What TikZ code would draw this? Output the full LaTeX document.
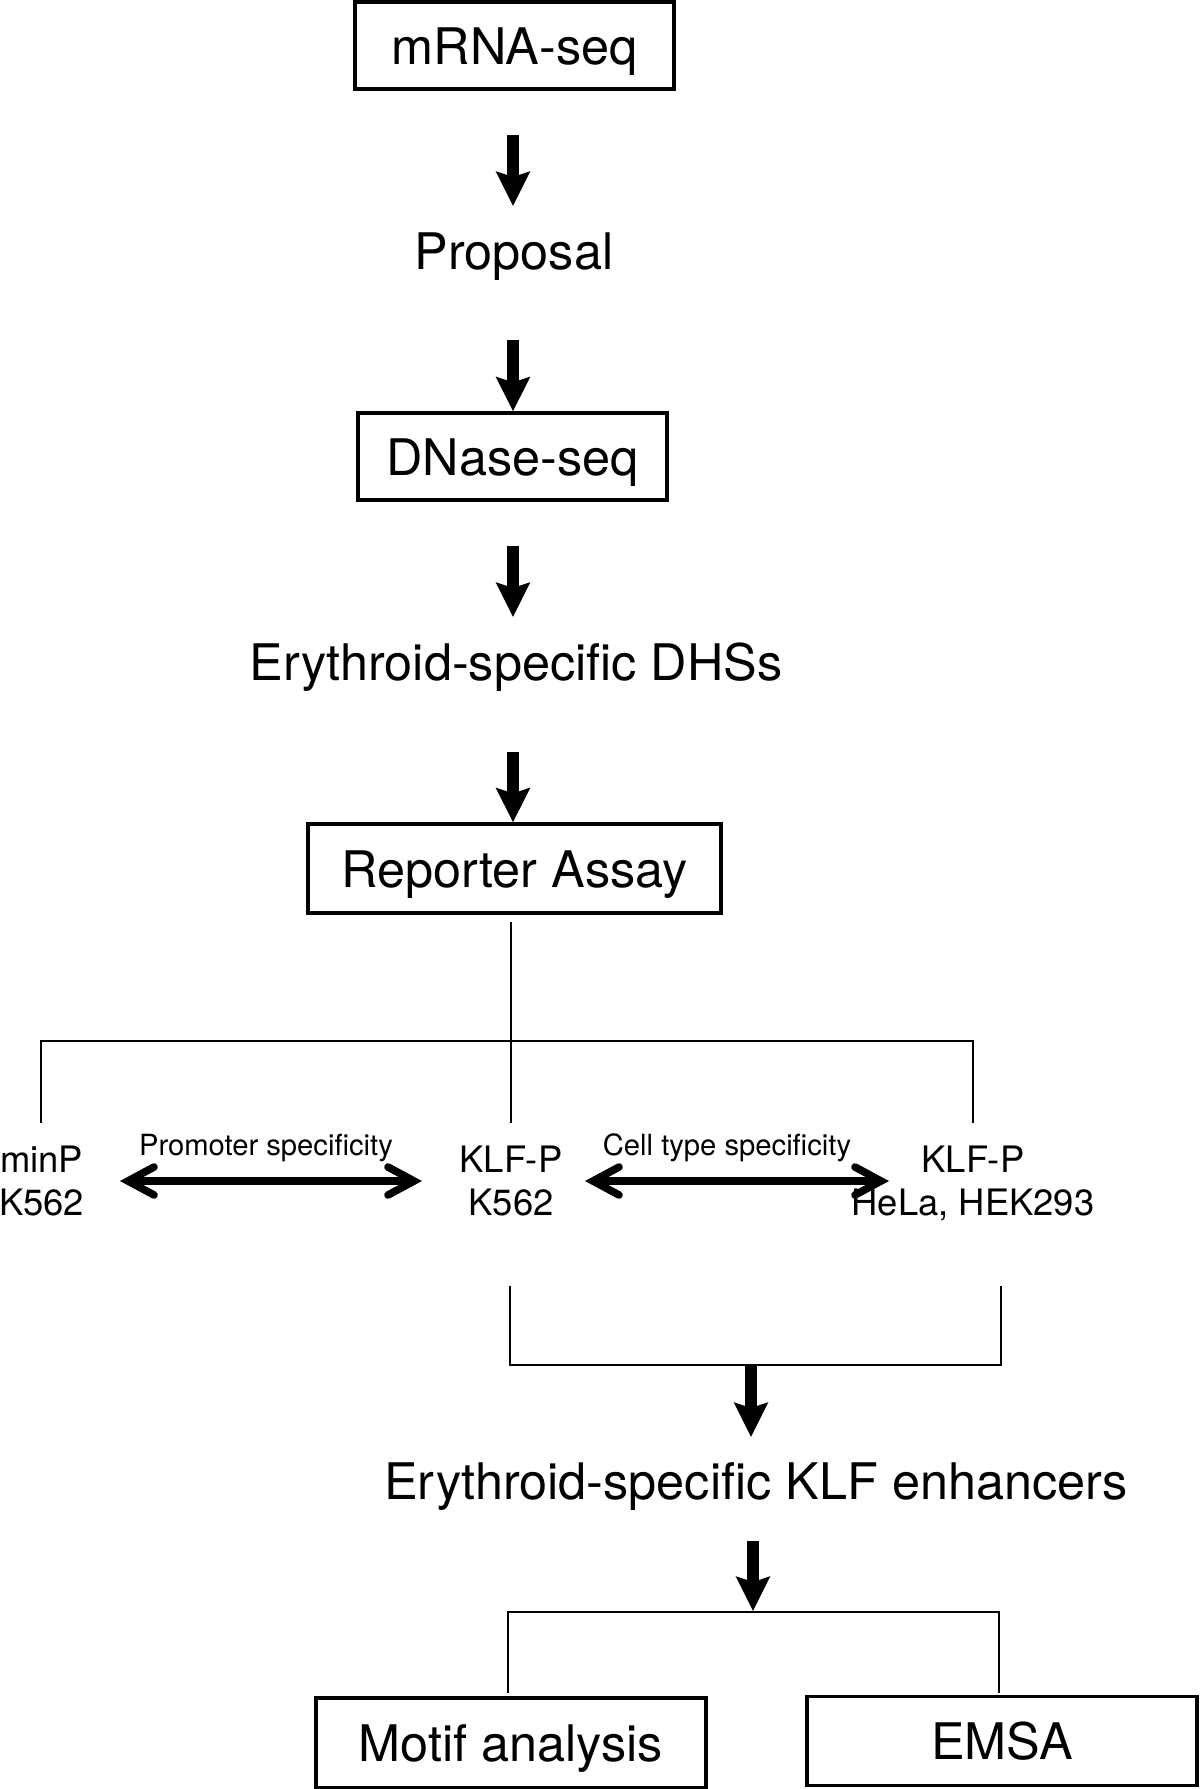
\documentclass[tikz,border=0pt]{standalone}
\usepackage{fontspec}
\setmainfont{TeX Gyre Heros}
\usetikzlibrary{arrows.meta}
\begin{document}
\begin{tikzpicture}[x=0.5pt,y=-0.5pt,
  big/.style={font=\fontsize{25.2}{30}\selectfont, inner sep=0pt, anchor=base},
  small/.style={font=\fontsize{18.2}{21}\selectfont, inner sep=0pt, anchor=base},
  lab/.style={font=\fontsize{14.6}{17}\selectfont, inner sep=0pt, anchor=base},
  boxn/.style={draw, line width=1.6pt, font=\fontsize{25.2}{30}\selectfont, inner sep=0pt, text height=21pt, text depth=2.5pt},
  flow/.style={line width=5.8pt, -{Stealth[length=17pt,width=16.5pt,inset=2.5pt]}},
  conn/.style={line width=1.3pt},
  dbl/.style={line width=3.8pt, {Straight Barb[line cap=round,line join=miter,length=13pt,width=14pt]}-{Straight Barb[line cap=round,line join=miter,length=13pt,width=14pt]}}]
\useasboundingbox (0,0) rectangle (1200,1789);
\fill[white] (0,0) rectangle (1200,1789);

% nodes
\node[boxn, minimum width=159.5pt, minimum height=43.5pt] (mrna) at (514.5,45.5) {mRNA-seq};
\node[big] (prop) at (514,269) {Proposal};
\node[boxn, minimum width=154.5pt, minimum height=43.5pt] (dnase) at (512.5,456.5) {DNase-seq};
\node[big] (dhs) at (516,680) {Erythroid-specific DHSs};
\node[boxn, minimum width=206.5pt, minimum height=44.5pt] (rep) at (514.5,868.5) {Reporter Assay};
\node[small] (minp) at (41.5,1172) {minP};
\node[small] (k1) at (41.5,1215) {K562};
\node[small] (klf1) at (511,1172) {KLF-P};
\node[small] (k2) at (511,1215) {K562};
\node[small] (klf2) at (973,1172) {KLF-P};
\node[small] (hela) at (973,1215) {HeLa, HEK293};
\node[lab] (ps) at (266,1155) {Promoter specificity};
\node[lab] (cts) at (727,1155) {Cell type specificity};
\node[big] (klfe) at (756,1499) {Erythroid-specific KLF enhancers};
\node[boxn, minimum width=195pt, minimum height=45pt] (motif) at (511,1743) {Motif analysis};
\node[boxn, minimum width=195pt, minimum height=44.5pt] (emsa) at (1002,1741) {EMSA};

% coordinates
\coordinate (a1s) at (513,135);  \coordinate (a1e) at (513,206);
\coordinate (a2s) at (513,340);
\coordinate (a3s) at (513,546);  \coordinate (a3e) at (513,617);
\coordinate (a4s) at (513,752);
\coordinate (t0) at (511,922);   \coordinate (t1) at (511,1123);
\coordinate (hl) at (41,1041);   \coordinate (hr) at (973,1041);
\coordinate (lb) at (41,1123);   \coordinate (rb) at (973,1123);
\coordinate (d1l) at (120,1181); \coordinate (d1r) at (422,1181);
\coordinate (d2l) at (585,1181); \coordinate (d2r) at (889,1181);
\coordinate (b1t) at (510,1286); \coordinate (b1b) at (510,1365);
\coordinate (b2t) at (1001,1286); \coordinate (b2b) at (1001,1365);
\coordinate (a5s) at (751,1365); \coordinate (a5e) at (751,1437);
\coordinate (a6s) at (753,1541); \coordinate (a6e) at (753,1611);
\coordinate (c1t) at (508,1612); \coordinate (c1b) at (508,1693);
\coordinate (c2t) at (999,1612); \coordinate (c2b) at (999,1693);

% connectors
\draw[flow] (a1s) -- (a1e);
\draw[flow] (a2s) -- (dnase.north -| a2s);
\draw[flow] (a3s) -- (a3e);
\draw[flow] (a4s) -- (rep.north -| a4s);
\draw[conn] (t0) -- (t1);
\draw[conn] (lb) -- (hl) -- (hr) -- (rb);
\draw[dbl] (d1l) -- (d1r);
\draw[dbl] (d2l) -- (d2r);
\draw[conn] (b1t) -- (b1b) -- (b2b) -- (b2t);
\draw[flow] (a5s) -- (a5e);
\draw[flow] (a6s) -- (a6e);
\draw[conn] (c1b) -- (c1t) -- (c2t) -- (c2b);
\end{tikzpicture}
\end{document}
